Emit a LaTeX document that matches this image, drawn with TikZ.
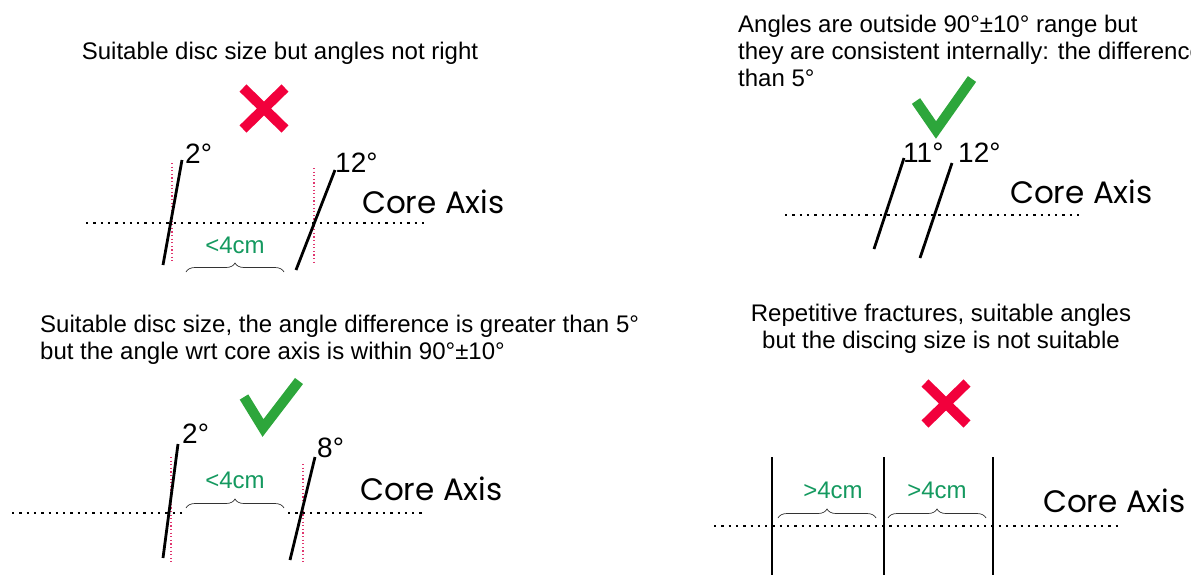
\documentclass[tikz,border=0pt]{standalone}
\usepackage{fontspec}
\setmainfont{Liberation Sans}
\newfontfamily\handfont{Poppins}
\usetikzlibrary{decorations.pathreplacing}
\definecolor{crossred}{HTML}{F2003C}
\definecolor{tickgreen}{HTML}{2DA63B}
\definecolor{lengreen}{HTML}{14995F}
\definecolor{refpink}{HTML}{E0356E}

\begin{document}
\begin{tikzpicture}[x=1pt,y=-1pt,
    frac/.style={line width=2.8pt},
    vert/.style={refpink,line width=1.1pt,dash pattern=on 1.2pt off 2.4pt},
    axis/.style={line width=2.3pt,dash pattern=on 2.3pt off 5pt},
    brc/.style={decorate,decoration={brace,amplitude=9pt},line width=0.7pt,black!80},
    cross/.style={crossred,line width=10pt},
    tick/.style={tickgreen,line width=10pt,miter limit=10},
    title/.style={font=\fontsize{24}{27}\selectfont,inner sep=0pt},
    deg/.style={font=\fontsize{28}{30}\selectfont,inner sep=0pt,anchor=base west},
    len/.style={font=\fontsize{24}{26}\selectfont,text=lengreen,inner sep=0pt,anchor=base},
    axlabel/.style={font=\handfont\fontsize{31}{33}\selectfont,inner sep=0pt,anchor=base west}]
    \useasboundingbox (0,0) rectangle (1191,574);
    \clip (0,0) rectangle (1191,574);

    % top left: angles not right
    \node[title,anchor=base] (title1) at (280,59) {Suitable disc size but angles not right};
    \draw[cross] (243,88)--(285,129) (285,88)--(243,129);
    \draw[vert] (172,163)--(172,263); \draw[vert] (314,168)--(314,265);
    \draw[axis] (86,223)--(425,223);
    \draw[frac] (182,160)--(163,265); \draw[frac] (335,170)--(296,270);
    \node[deg] (a11) at (185,163) {2°};
    \node[deg] (a12) at (335,172) {12°};
    \node[axlabel] (core1) at (362,213) {Core Axis};
    \node[len] (len1) at (235,253) {<4cm};
    \draw[brc] (186,272)--(284,272);

    % bottom left: angle difference > 5
    \node[title,anchor=north west,align=left] (title2) at (40,314.5)
        {Suitable disc size, the angle difference is greater than 5°\\but the angle wrt core axis is within 90°±10°};
    \draw[tick] (244,397)--(263,428)--(299,381);
    \draw[vert] (171,457)--(171,562); \draw[vert] (303,464)--(303,563);
    \draw[axis] (12,513)--(183,513) (288,513)--(422,513);
    \draw[frac] (178,444)--(163,558); \draw[frac] (315,457)--(290,560);
    \node[deg] (a21) at (182,443) {2°};
    \node[deg] (a22) at (317,457) {8°};
    \node[axlabel] (core2) at (360,500) {Core Axis};
    \node[len] (len2) at (235,488) {<4cm};
    \draw[brc] (186,508)--(284,508);

    % top right: consistent angles
    \node[title,anchor=north west,align=left] (title3) at (738,14.5)
        {Angles are outside 90°±10° range but\\they are consistent internally: the difference\\than 5°};
    \draw[tick] (916,101)--(936,130)--(972,79);
    \draw[axis] (785,215)--(1082,215);
    \draw[frac] (904,158)--(874,249); \draw[frac] (952,163)--(920,258);
    \node[deg] (a31) at (903,162) {11°};
    \node[deg] (a32) at (958,162) {12°};
    \node[axlabel] (core3) at (1010,203) {Core Axis};

    % bottom right: repetitive fractures
    \node[title,align=center,anchor=north] (title4) at (941,303.5)
        {Repetitive fractures, suitable angles\\but the discing size is not suitable};
    \draw[cross] (925,383)--(967,424) (967,383)--(925,424);
    \draw[axis] (714,526)--(1118,526);
    \foreach \x in {772,884,993} \draw[frac] (\x,457)--(\x,580);
    \node[len] (len41) at (833,498) {>4cm};
    \node[len] (len42) at (937,498) {>4cm};
    \draw[brc] (778,518)--(876,518); \draw[brc] (888,518)--(986,518);
    \node[axlabel] (core4) at (1043,512) {Core Axis};
\end{tikzpicture}
\end{document}
